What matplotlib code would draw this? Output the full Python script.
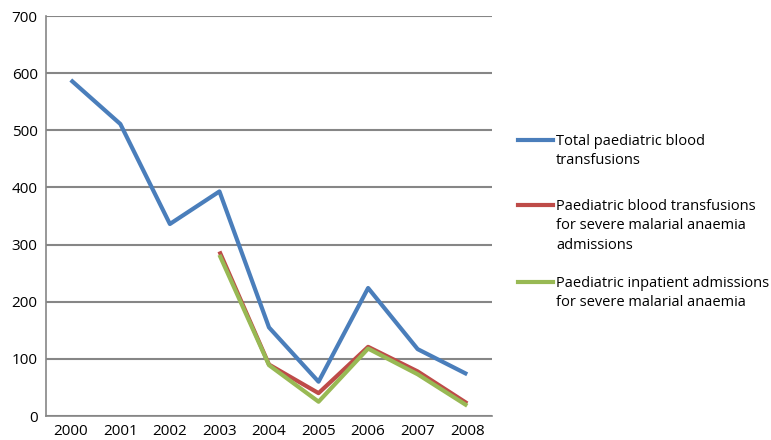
import matplotlib
matplotlib.use("Agg")
import matplotlib.pyplot as plt
from matplotlib.lines import Line2D

years = ["2000", "2001", "2002", "2003", "2004", "2005", "2006", "2007", "2008"]
total = [588, 511, 336, 393, 155, 60, 224, 117, 73]
sma_transfusions = [None, None, None, 288, 90, 40, 121, 78, 22]
sma_admissions = [None, None, None, 282, 89, 25, 118, 73, 18]
labels = ["Total paediatric blood\ntransfusions",
          "Paediatric blood transfusions\nfor severe malarial anaemia\nadmissions",
          "Paediatric inpatient admissions\nfor severe malarial anaemia"]
colors = ["#4a7ebb", "#be4b48", "#98b954"]
yticks = [0, 100, 200, 300, 400, 500, 600, 700]

plt.rcParams['font.family'] = ['Open Sans', 'DejaVu Sans']

fig = plt.figure(figsize=(7.71, 4.4), dpi=100)
ax = fig.add_axes([46/771, 1-416/440, (492-46)/771, 400/440])

x = list(range(len(years)))
series = [total, sma_transfusions, sma_admissions]
for s, c in zip(series, colors):
    xs = [xi for xi, v in zip(x, s) if v is not None]
    vs = [v for v in s if v is not None]
    ax.plot(xs, vs, color=c, lw=3, solid_capstyle='butt', zorder=3)

ax.set_xlim(-0.5, len(years) - 0.5)
ax.set_ylim(0, 700)
ax.set_xticks(x)
ax.set_xticklabels(years, fontsize=11)
ax.set_yticks(yticks)
ax.set_yticklabels([str(t) for t in yticks], fontsize=11)
ax.tick_params(length=0, pad=6)
ax.grid(axis='y', color='#868686', lw=1.5)
ax.set_axisbelow(True)
for sp in ['top', 'right']:
    ax.spines[sp].set_visible(False)
for sp in ['left', 'bottom']:
    ax.spines[sp].set_color('#868686')
    ax.spines[sp].set_linewidth(1.2)

# legend
entry_y = [140, 205, 282]
for lab, c, yy in zip(labels, colors, entry_y):
    yf = 1 - yy/440
    fig.add_artist(Line2D([518/771, 553/771], [yf, yf], color=c, lw=3))
    fig.text(556/771, yf + 6/440, lab, fontsize=10.5, va='top', ha='left',
             linespacing=1.4)

fig.savefig("out.png", dpi=100)
